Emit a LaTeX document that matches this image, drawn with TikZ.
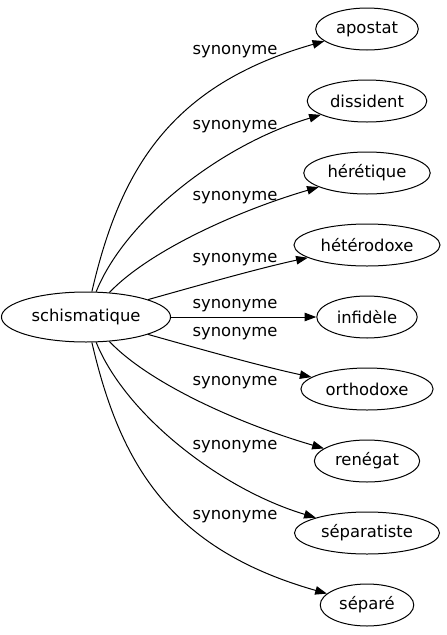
\documentclass[tikz,border=0pt]{standalone}
\usepackage{fontspec}
\setmainfont{DejaVu Sans}
\usetikzlibrary{arrows.meta, shapes.geometric}
\tikzset{%
    nod/.style={ellipse, draw, line width=1pt, inner xsep=5.3pt, inner ysep=0pt, minimum height=42pt},
    srcn/.style={nod, minimum height=50pt},
    syna/.style={line width = 1pt, -{Triangle[length=11.7pt,width=8.5pt]}},
    lab/.style={inner sep=0pt},
}
\begin{document}
\begin{tikzpicture}[x=1pt, y=-1pt, font=\fontsize{16.4}{20}\selectfont]
    \useasboundingbox (0,0) rectangle (447,635);
    \node[srcn] (sch) at (86,317) {schismatique};
    \node[nod] (apo) at (367,29) {apostat};
    \node[nod] (dis) at (367,101) {dissident};
    \node[nod] (her) at (367,173) {hérétique};
    \node[nod] (het) at (367,245) {hétérodoxe};
    \node[nod] (inf) at (367,317) {infidèle};
    \node[nod] (ort) at (367,389) {orthodoxe};
    \node[nod] (ren) at (367,461) {renégat};
    \node[nod] (sep) at (367,533) {séparatiste};
    \node[nod] (spr) at (367,605) {séparé};
    \draw [syna] (sch) .. controls (120,170) and (170,85) .. (apo);
    \draw [syna] (sch) .. controls (125,220) and (220,145) .. (dis);
    \draw [syna] (sch) .. controls (150,250) and (240,210) .. (her);
    \draw [syna] (sch) .. controls (200,285) and (260,268) .. (het);
    \draw [syna] (sch) -- (inf);
    \draw [syna] (sch) .. controls (200,349) and (260,366) .. (ort);
    \draw [syna] (sch) .. controls (150,384) and (240,424) .. (ren);
    \draw [syna] (sch) .. controls (125,414) and (220,489) .. (sep);
    \draw [syna] (sch) .. controls (120,464) and (170,549) .. (spr);
    \node[lab] (l1) at (235,52) {synonyme};
    \node[lab] (l2) at (235,127) {synonyme};
    \node[lab] (l3) at (235,198) {synonyme};
    \node[lab] (l4) at (235,260) {synonyme};
    \node[lab] (l5) at (235,306) {synonyme};
    \node[lab] (l6) at (235,334) {synonyme};
    \node[lab] (l7) at (235,383) {synonyme};
    \node[lab] (l8) at (235,447) {synonyme};
    \node[lab] (l9) at (235,517) {synonyme};
\end{tikzpicture}
\end{document}
